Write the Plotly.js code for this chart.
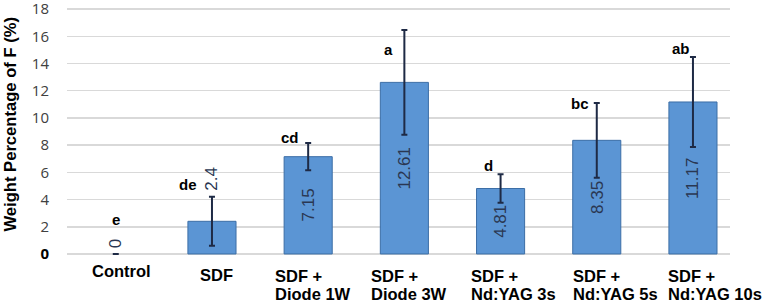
<!DOCTYPE html>
<html>
<head>
<meta charset="utf-8">
<script src="https://cdn.plot.ly/plotly-3.0.1.min.js"></script>
<style>
  html, body { margin: 0; padding: 0; background: #ffffff; }
  #chart { width: 762px; height: 304px; }
</style>
</head>
<body>
<div id="chart"></div>
<script>
// Fluoride weight percentage per treatment group
const groups = [
  "Control",
  "SDF",
  "SDF +\nDiode 1W",
  "SDF +\nDiode 3W",
  "SDF +\nNd:YAG 3s",
  "SDF +\nNd:YAG 5s",
  "SDF +\nNd:YAG 10s"
];
const meanF = [0, 2.4, 7.15, 12.61, 4.81, 8.35, 11.17];
const sdF = [0, 1.8, 1.0, 3.85, 1.05, 2.75, 3.3];
const sigLetters = ["e", "de", "cd", "a", "d", "bc", "ab"];
const yTicks = [0, 2, 4, 6, 8, 10, 12, 14, 16, 18];
const yTitle = "Weight Percentage of F (%)";

const idx = groups.map((_, i) => i);

// label placement tweaks (pixels)
const catLabelShift = [-26, -14, -35, -35, -32, -26, -27];
const letterShift = [[0, 34], [-24, 12], [-18, 6], [-16, -19], [-12, 9], [-17, -1], [-12, 9]];

// only groups with a non-zero mean get a drawn bar outline and whisker
const hasBar = meanF.map(v => v > 0);

const bars = {
  type: "bar",
  x: idx,
  y: meanF,
  width: 0.5,
  marker: {
    color: "#5b95d4",
    line: { color: "#3c6ea6", width: hasBar.map(b => b ? 1 : 0) }
  },
  error_y: {
    type: "data",
    array: sdF.map((s, i) => hasBar[i] ? s : null),
    visible: true,
    color: "#1e2a45",
    thickness: 2,
    width: 3
  },
  hoverinfo: "x+y"
};

const annotations = [];

// value labels: centred inside tall bars, above the whisker for short ones
meanF.forEach((v, i) => {
  const inside = v > 3;
  annotations.push({
    xref: "x", yref: "y",
    x: i,
    y: inside ? v / 2 : v + sdF[i],
    xanchor: "center",
    yanchor: inside ? "middle" : "bottom",
    yshift: inside ? 0 : 4,
    text: v.toString(),
    textangle: -90,
    showarrow: false,
    bgcolor: "rgba(0,0,0,0)",
    font: { family: "Liberation Sans, Arial, sans-serif", size: 17, color: "#2a3752" }
  });
});

// significance letters
sigLetters.forEach((t, i) => {
  annotations.push({
    xref: "x", yref: "y",
    x: i,
    y: meanF[i] + sdF[i],
    xshift: letterShift[i][0],
    yshift: letterShift[i][1],
    yanchor: "middle",
    text: "<b>" + t + "</b>",
    showarrow: false,
    font: { family: "Liberation Sans, Arial, sans-serif", size: 15, color: "#000000" }
  });
});

// category labels, left-aligned lines below the axis
groups.forEach((g, i) => {
  const lines = g.split("\n");
  lines.forEach((line, j) => {
    annotations.push({
      xref: "x", yref: "paper",
      x: i, y: 0,
      xanchor: "left",
      yanchor: "middle",
      xshift: catLabelShift[i],
      yshift: lines.length === 1 ? (i === 0 ? -15 : -19) : -(20 + j * 17.5),
      text: "<b>" + line + "</b>",
      showarrow: false,
      font: { family: "Liberation Sans, Arial, sans-serif", size: 16.5, color: "#000000" }
    });
  });
});

// y-axis title
annotations.push({
  xref: "paper", yref: "paper",
  x: 0, y: 0.5,
  xanchor: "center", yanchor: "middle",
  xshift: -57, yshift: 7,
  textangle: -90,
  text: "<b>" + yTitle + "</b>",
  showarrow: false,
  font: { family: "Liberation Sans, Arial, sans-serif", size: 16.6, color: "#000000" }
});

const layout = {
  width: 762,
  height: 304,
  margin: { l: 67, r: 32, t: 7, b: 48, pad: 0 },
  paper_bgcolor: "#ffffff",
  plot_bgcolor: "#ffffff",
  showlegend: false,
  xaxis: {
    range: [-0.507, 6.385],
    tickvals: idx,
    showticklabels: false,
    showgrid: false,
    zeroline: false,
    showline: false,
    ticks: "",
    fixedrange: true
  },
  yaxis: {
    range: [-0.15, 18.15],
    tickvals: yTicks,
    ticktext: yTicks.map(v => v === 0 ? "<b><span style='color:#000000'>0</span></b>" : String(v)),
    tickfont: { family: "Open Sans, sans-serif", size: 15, color: "#404040" },
    ticks: "",
    ticklabelstandoff: 17,
    ticklabeloverflow: "allow",
    showgrid: true,
    gridcolor: "#d9d9d9",
    gridwidth: 1.5,
    zeroline: false,
    showline: false,
    automargin: false,
    fixedrange: true
  },
  annotations: annotations
};

Plotly.newPlot("chart", [bars], layout, { displayModeBar: false, staticPlot: true });
</script>
</body>
</html>
